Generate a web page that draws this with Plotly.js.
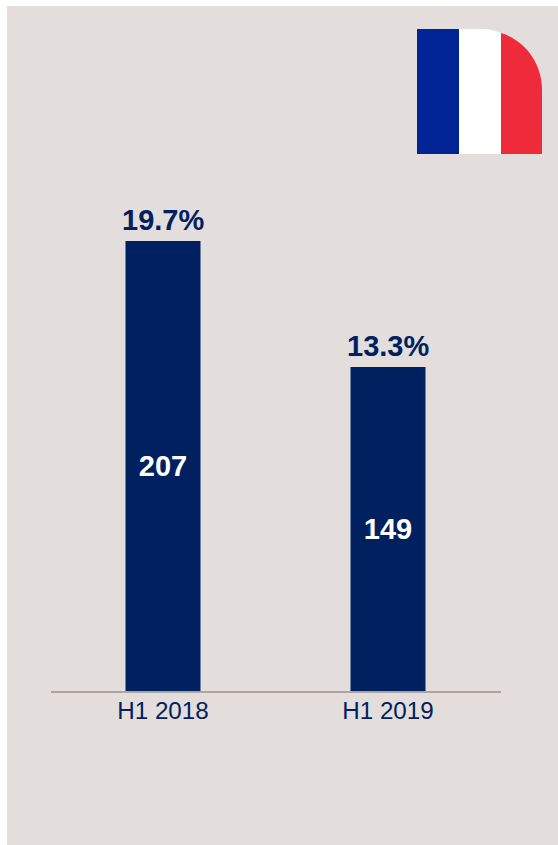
<!DOCTYPE html>
<html>
<head>
<meta charset="utf-8">
<script src="https://cdn.plot.ly/plotly-3.0.1.min.js"></script>
<style>html,body{margin:0;padding:0;background:#fff;overflow:hidden}#chart{width:558px;height:845px}</style>
</head>
<body>
<div id="chart"></div>
<script>
// H1 volumes for France with the share shown above each bar
const periods = ['H1 2018', 'H1 2019'];
const volumes = [207, 149];
const shares = ['19.7%', '13.3%'];

const W = 558, H = 845;
const NAVY = '#002060';
const PANEL = '#e3dedc';
const FONT = 'Liberation Sans, Arial, sans-serif';

// Page pixels to paper fractions (margins are zero, so paper is the whole page)
const px = v => v / W;
const py = v => 1 - v / H;

function rectPath(x0, y0, x1, y1) {
  return `M${px(x0)},${py(y0)} L${px(x1)},${py(y0)} L${px(x1)},${py(y1)} L${px(x0)},${py(y1)} Z`;
}

// Tricolour badge whose top-right corner is rounded
const badgeRed = `M${px(501)},${py(33)} C${px(524)},${py(40)} ${px(542)},${py(62)} ${px(542)},${py(90)} L${px(542)},${py(154)} L${px(501)},${py(154)} Z`;
const badgeWhite = `M${px(459)},${py(29)} L${px(482)},${py(29)} C${px(489)},${py(29)} ${px(495)},${py(31)} ${px(501)},${py(33)} L${px(501)},${py(154)} L${px(459)},${py(154)} Z`;

function paperShape(path, color) {
  return { type: 'path', xref: 'paper', yref: 'paper', path, fillcolor: color, line: { width: 0 }, layer: 'below' };
}

const traces = [
  {
    type: 'bar',
    x: periods,
    y: volumes,
    text: volumes.map(String),
    textposition: 'inside',
    insidetextanchor: 'middle',
    textangle: 0,
    textfont: { family: FONT, size: 29, color: '#ffffff', weight: 700 },
    marker: { color: NAVY, line: { width: 0 } },
    hoverinfo: 'skip'
  }
];

// Share labels sit just above their bars
const shareLabels = periods.map((p, i) => ({
  x: p,
  y: volumes[i],
  xref: 'x',
  yref: 'y',
  text: shares[i],
  showarrow: false,
  xanchor: 'center',
  yanchor: 'bottom',
  yshift: 3,
  font: { family: FONT, size: 29, color: NAVY, weight: 700 }
}));

const layout = {
  width: W,
  height: H,
  margin: { l: 0, r: 0, t: 0, b: 0, pad: 0 },
  paper_bgcolor: '#ffffff',
  plot_bgcolor: 'rgba(0,0,0,0)',
  showlegend: false,
  bargap: 2 / 3,
  xaxis: {
    domain: [px(50.5), px(500.5)],
    type: 'category',
    showline: true,
    linecolor: '#aea49e',
    linewidth: 1.5,
    ticks: '',
    showgrid: false,
    zeroline: false,
    ticklabelstandoff: -3,
    tickfont: { family: FONT, size: 24.2, color: NAVY }
  },
  yaxis: {
    domain: [py(691), py(169)],
    range: [0, 240.12],
    visible: false,
    showgrid: false,
    zeroline: false
  },
  annotations: shareLabels,
  shapes: [
    paperShape(rectPath(7, 6, W, H), PANEL),
    paperShape(rectPath(417, 29, 459, 154), '#002395'),
    paperShape(badgeWhite, '#ffffff'),
    paperShape(badgeRed, '#ef2b3b')
  ]
};

Plotly.newPlot('chart', traces, layout, { displayModeBar: false, staticPlot: true });
</script>
</body>
</html>
